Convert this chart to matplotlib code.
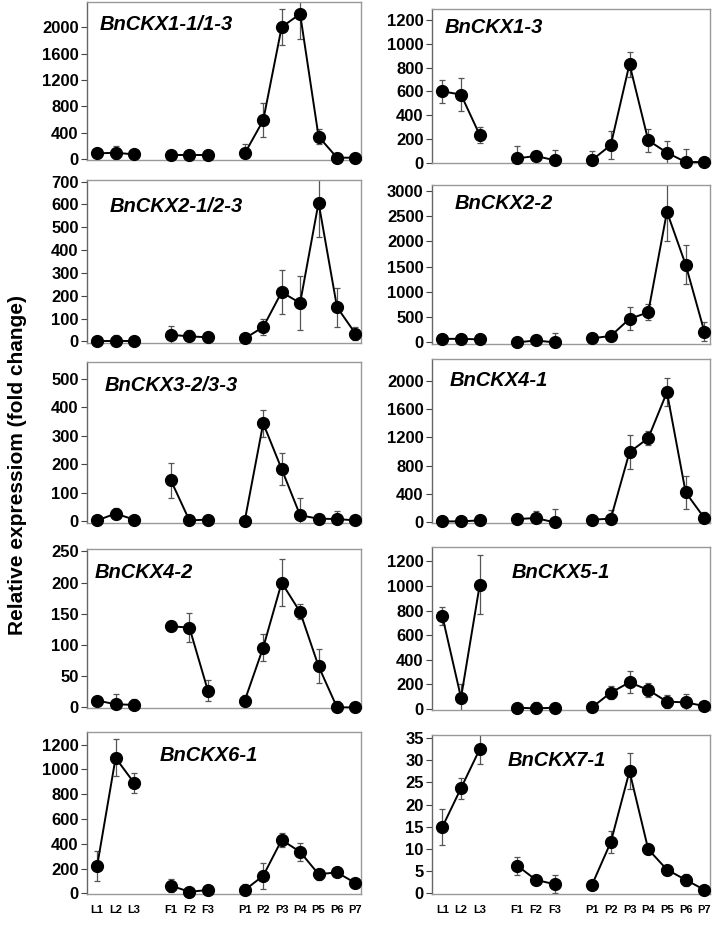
import matplotlib
matplotlib.use("Agg")
import matplotlib.pyplot as plt
import numpy as np

plt.rcParams['font.family'] = ['Liberation Sans', 'DejaVu Sans']

# sample labels: leaves, flowers, pods
labels = ["L1", "L2", "L3", "F1", "F2", "F3",
          "P1", "P2", "P3", "P4", "P5", "P6", "P7"]
xpos = [0, 1, 2, 4, 5, 6, 8, 9, 10, 11, 12, 13, 14]
groups = [(0, 3), (3, 6), (6, 13)]

genes = ["BnCKX1-1/1-3", "BnCKX1-3", "BnCKX2-1/2-3", "BnCKX2-2", "BnCKX3-2/3-3",
         "BnCKX4-1", "BnCKX4-2", "BnCKX5-1", "BnCKX6-1", "BnCKX7-1"]

ckx1_1 = [90, 100, 75, 60, 60, 60, 90, 590, 2000, 2200, 345, 25, 25]
ckx1_1_err = [40, 100, 30, 20, 20, 20, 140, 255, 270, 380, 110, 10, 10]
ckx1_3 = [600, 572, 232, 36, 56, 20, 22, 148, 829, 187, 84, 5, 5]
ckx1_3_err = [95, 140, 70, 100, 45, 85, 75, 120, 105, 95, 100, 110, 0]
ckx2_1 = [0, 0, 0, 29, 22, 18, 13, 63, 216, 168, 608, 150, 34]
ckx2_1_err = [5, 30, 5, 37, 30, 8, 5, 35, 97, 120, 150, 85, 30]
ckx2_2 = [70, 70, 60, 0, 38, 0, 80, 128, 466, 594, 2585, 1538, 210]
ckx2_2_err = [20, 20, 20, 10, 100, 180, 20, 100, 230, 160, 580, 380, 190]
ckx3_2 = [3, 27, 6, 143, 3, 6, 2, 343, 183, 21, 9, 8, 3]
ckx3_2_err = [3, 20, 3, 62, 3, 3, 2, 48, 57, 62, 15, 27, 2]
ckx4_1 = [14, 14, 28, 47, 61, 0, 38, 52, 990, 1188, 1836, 423, 61]
ckx4_1_err = [10, 10, 10, 10, 95, 190, 10, 125, 240, 100, 200, 230, 90]
ckx4_2 = [11, 5, 4, 130, 128, 27, 11, 96, 200, 153, 66, 0, 0]
ckx4_2_err = [3, 17, 10, 8, 23, 17, 9, 22, 38, 12, 27, 10, 0]
ckx5_1 = [757, 92, 1010, 11, 5, 11, 14, 133, 217, 155, 60, 54, 24]
ckx5_1_err = [72, 115, 240, 10, 50, 10, 10, 55, 90, 55, 55, 65, 10]
ckx6_1 = [222, 1093, 892, 62, 13, 27, 27, 142, 431, 335, 155, 169, 83]
ckx6_1_err = [120, 150, 80, 50, 10, 10, 45, 105, 55, 75, 45, 20, 10]
ckx7_1 = [14.9, 23.7, 32.5, 6.2, 3.0, 2.0, 1.9, 11.5, 27.5, 9.9, 5.3, 3.0, 0.75]
ckx7_1_err = [4.0, 2.4, 3.4, 2.0, 0.5, 2.0, 0.3, 2.5, 4.1, 1.0, 0.6, 1.4, 0.75]

means = [ckx1_1, ckx1_3, ckx2_1, ckx2_2, ckx3_2, ckx4_1, ckx4_2, ckx5_1, ckx6_1, ckx7_1]
errs = [ckx1_1_err, ckx1_3_err, ckx2_1_err, ckx2_2_err, ckx3_2_err,
        ckx4_1_err, ckx4_2_err, ckx5_1_err, ckx6_1_err, ckx7_1_err]

ylims = [(-10, 2380), (-3, 1292), (-7, 707), (-32, 3115), (-6, 558),
         (-9, 2305), (-1, 254), (-8, 1317), (-5, 1302), (-0.2, 35.7)]
ystep = [400, 200, 100, 500, 100, 400, 50, 200, 200, 5]
ytop = [2000, 1200, 700, 3000, 500, 2000, 250, 1200, 1200, 35]

# panel boxes in pixels: left, right, top, bottom
W, H = 716, 930
boxes = [(87, 361, 2, 160), (432, 710, 9, 163),
         (87, 361, 180, 343), (432, 710, 185, 344),
         (87, 361, 362, 523), (432, 710, 359, 523),
         (87, 361, 549, 708), (432, 710, 547, 710),
         (87, 361, 732, 894), (432, 710, 735, 894)]
# title anchor (left x, center y) in pixels
title_px = [(100, 25), (445, 27), (110, 206), (455, 203), (105, 385),
            (450, 381), (95, 573), (512, 573), (160, 755), (508, 760)]

fig = plt.figure(figsize=(W / 100, H / 100), dpi=100)

for i, gene in enumerate(genes):
    l, r, t, b = boxes[i]
    ax = fig.add_axes([l / W, 1 - b / H, (r - l) / W, (b - t) / H])
    y = np.array(means[i], dtype=float)
    e = np.array(errs[i], dtype=float)
    x = np.array(xpos, dtype=float)

    ax.errorbar(x, y, yerr=e, fmt='none', ecolor='#555555', elinewidth=0.9,
                capsize=2, capthick=0.9, zorder=2)
    for s, f in groups:
        ax.plot(x[s:f], y[s:f], '-', color='black', lw=1.4, zorder=3)
        ax.plot(x[s:f], y[s:f], 'o', color='black', ms=8.5, zorder=4, clip_on=False)

    ax.set_xlim(-0.55, 14.3)
    ax.set_ylim(*ylims[i])
    ax.set_yticks(np.arange(0, ytop[i] + ystep[i] / 2, ystep[i]))
    ax.yaxis.set_major_formatter(matplotlib.ticker.FuncFormatter(lambda v, p: "%d" % round(v)))
    for lab in ax.get_yticklabels():
        lab.set_fontweight('bold')
    ax.tick_params(axis='y', labelsize=12, length=4, width=0.8, color='#444444', pad=2)

    if i >= 8:
        ax.set_xticks(xpos)
        ax.set_xticklabels(labels, fontsize=8, fontweight='bold')
        ax.tick_params(axis='x', length=0, pad=8)
    else:
        ax.set_xticks([])

    for side in ['top', 'right', 'bottom']:
        ax.spines[side].set_color('#999999')
        ax.spines[side].set_linewidth(1.0)
    ax.spines['left'].set_color('#666666')
    ax.spines['left'].set_linewidth(1.0)

    tx, ty = title_px[i]
    ax.text((tx - l) / (r - l), (b - ty) / (b - t), gene, transform=ax.transAxes,
            fontsize=14.5, fontweight='bold', fontstyle='italic', ha='left', va='center')

fig.text(18 / W, 1 - 465 / H, "Relative expressiom (fold change)", rotation=90,
         fontsize=15, fontweight='bold', ha='center', va='center')

fig.savefig("out.png", dpi=100)
